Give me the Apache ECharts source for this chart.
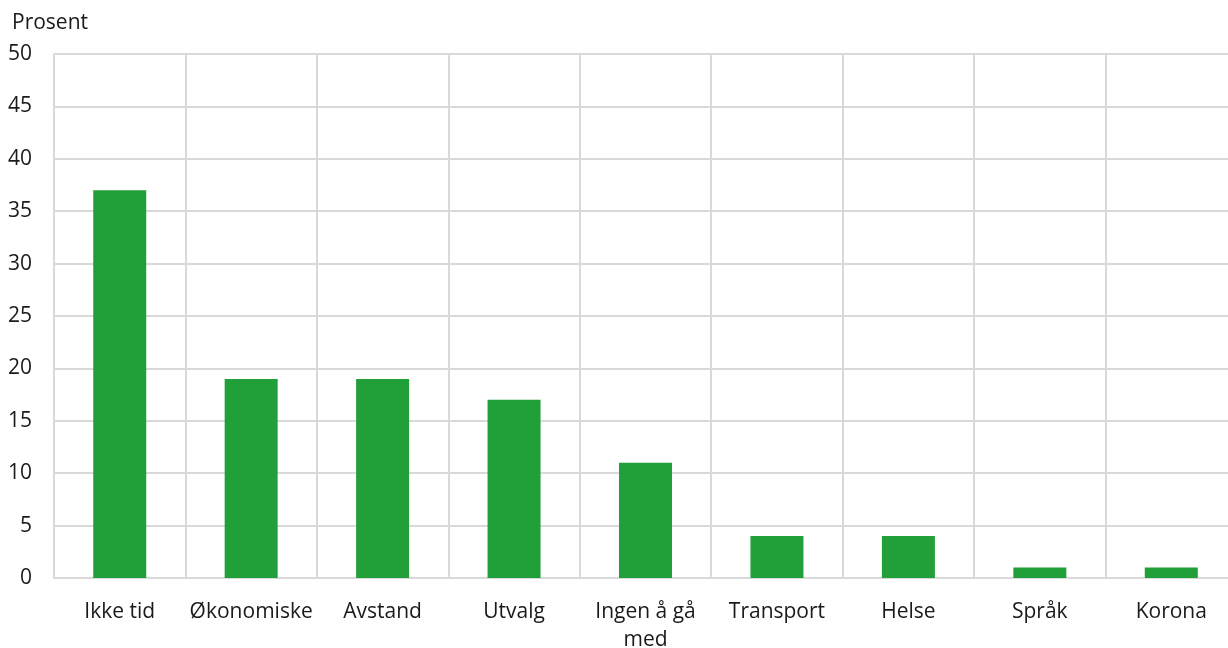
<!DOCTYPE html>
<html><head><meta charset="utf-8">
<script src="https://cdn.jsdelivr.net/npm/echarts@6/dist/echarts.min.js"></script>
<style>html,body{margin:0;padding:0;background:#fff}#c{width:1228px;height:648px}</style>
</head><body><div id="c"></div>
<script>
const categories = ["Ikke tid","Økonomiske","Avstand","Utvalg","Ingen å gå\nmed","Transport","Helse","Språk","Korona"];
const values = [37, 19, 19, 17, 11, 4, 4, 1, 1];
const yTicks = {min: 0, max: 50, interval: 5};
const yName = "Prosent";

const chart = echarts.init(document.getElementById('c'), null, {renderer: 'canvas'});
const font = "'Open Sans', sans-serif";
chart.setOption({
  animation: false,
  grid: {left: 54, top: 54, width: 1183, height: 524, containLabel: false, outerBoundsMode: 'none'},
  xAxis: {
    type: 'category', data: categories,
    axisLine: {show: true, lineStyle: {color: '#d9d9d9', width: 2}},
    axisTick: {show: false},
    splitLine: {show: true, lineStyle: {color: '#d9d9d9', width: 2}},
    axisLabel: {color: '#1a1a1a', fontSize: 21, fontFamily: font, margin: 20, lineHeight: 28, interval: 0}
  },
  yAxis: {
    type: 'value', min: yTicks.min, max: yTicks.max, interval: yTicks.interval,
    name: yName, nameLocation: 'end', nameGap: 20,
    nameTextStyle: {color: '#1a1a1a', fontSize: 21, fontFamily: font, align: 'left', padding: [0,0,0,-42]},
    axisLine: {show: true, lineStyle: {color: '#d9d9d9', width: 2}},
    axisTick: {show: false},
    splitLine: {show: true, lineStyle: {color: '#d9d9d9', width: 2}},
    axisLabel: {color: '#1a1a1a', fontSize: 21, fontFamily: font, margin: 22}
  },
  series: [{type: 'bar', data: values, barWidth: 53, itemStyle: {color: '#21a03a'}}]
});
</script></body></html>
